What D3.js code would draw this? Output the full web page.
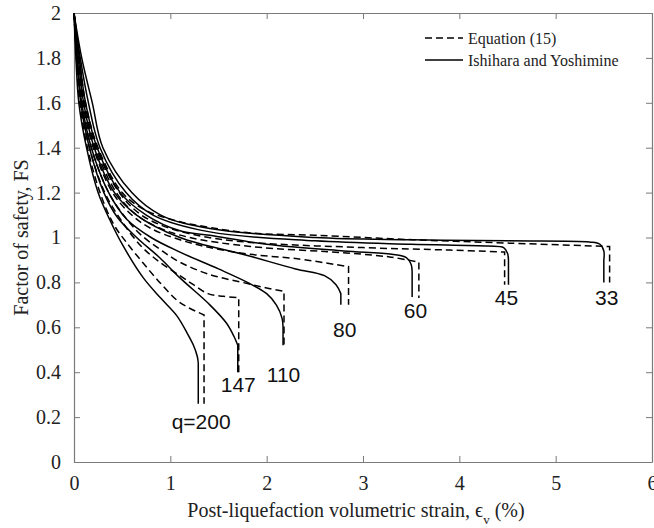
<!DOCTYPE html>
<html>
<head>
<meta charset="utf-8">
<script src="https://cdnjs.cloudflare.com/ajax/libs/d3/7.8.5/d3.min.js"></script>
<style>
body { margin: 0; background: #fff; }
</style>
</head>
<body>
<script>
// q values (curve labels)
const qLabels = ["q=200", "147", "110", "80", "60", "45", "33"];

// Ishihara and Yoshimine curves: [strain %, FS]
const ishiharaCurves = [
  [[0,2],[0.02,1.8],[0.05,1.6],[0.13,1.4],[0.25,1.2],[0.37,1.08],[0.5,0.97],[0.72,0.82],[0.9,0.73],[1.07,0.65],[1.18,0.57],[1.24,0.52],[1.28,0.47],[1.29,0.44]],
  [[0,2],[0.03,1.8],[0.07,1.6],[0.16,1.4],[0.31,1.2],[0.45,1.09],[0.65,1.0],[0.89,0.91],[1.1,0.82],[1.41,0.7],[1.58,0.62],[1.66,0.56],[1.7,0.52]],
  [[0,2],[0.035,1.8],[0.08,1.6],[0.18,1.4],[0.36,1.2],[0.55,1.08],[0.8,1.0],[1.1,0.935],[1.5,0.86],[1.8,0.8],[2.0,0.75],[2.1,0.7],[2.16,0.64],[2.17,0.6]],
  [[0,2],[0.045,1.8],[0.1,1.6],[0.21,1.4],[0.42,1.2],[0.65,1.1],[1.1,1.0],[1.8,0.92],[2.3,0.86],[2.6,0.83],[2.72,0.79],[2.77,0.75]],
  [[0,2],[0.055,1.8],[0.12,1.6],[0.24,1.4],[0.48,1.2],[0.75,1.1],[1.1,1.03],[1.41,1.01],[2.0,0.97],[2.8,0.94],[3.3,0.925],[3.45,0.91],[3.5,0.88],[3.51,0.85]],
  [[0,2],[0.065,1.8],[0.15,1.6],[0.27,1.4],[0.54,1.2],[0.82,1.1],[1.41,1.025],[2.5,0.985],[3.5,0.97],[4.3,0.962],[4.46,0.955],[4.5,0.93],[4.51,0.9]],
  [[0,2],[0.08,1.8],[0.19,1.6],[0.3,1.4],[0.6,1.2],[0.9,1.1],[1.41,1.04],[2.5,1.0],[3.5,0.99],[4.5,0.985],[5.35,0.98],[5.46,0.97],[5.5,0.94],[5.5,0.9]]
];
const ishiharaBottom = [0.26, 0.40, 0.52, 0.70, 0.735, 0.79, 0.80];

// Equation (15) curves: [strain %, FS]
const equationCurves = [
  [[0,2],[0.025,1.8],[0.06,1.6],[0.14,1.4],[0.27,1.2],[0.41,1.06],[0.55,0.975],[0.72,0.885],[0.89,0.8],[1.07,0.72],[1.2,0.685],[1.35,0.655]],
  [[0,2],[0.03,1.8],[0.07,1.6],[0.16,1.4],[0.32,1.2],[0.5,1.07],[0.7,0.96],[0.89,0.89],[1.1,0.83],[1.24,0.79],[1.39,0.75],[1.55,0.738],[1.71,0.732]],
  [[0,2],[0.035,1.8],[0.08,1.6],[0.18,1.4],[0.36,1.2],[0.55,1.08],[0.7,1.01],[0.9,0.945],[1.1,0.89],[1.41,0.835],[1.8,0.795],[2.0,0.775],[2.18,0.76]],
  [[0,2],[0.04,1.8],[0.09,1.6],[0.2,1.4],[0.4,1.2],[0.6,1.1],[0.8,1.04],[1.1,0.99],[1.41,0.955],[1.83,0.925],[2.32,0.905],[2.85,0.87]],
  [[0,2],[0.045,1.8],[0.1,1.6],[0.22,1.4],[0.44,1.2],[0.65,1.1],[0.9,1.04],[1.2,1.0],[1.83,0.96],[2.87,0.93],[3.3,0.912],[3.58,0.89]],
  [[0,2],[0.05,1.8],[0.11,1.6],[0.23,1.4],[0.47,1.2],[0.7,1.1],[1.0,1.04],[1.4,1.0],[1.83,0.978],[3.0,0.955],[3.9,0.944],[4.47,0.935]],
  [[0,2],[0.055,1.8],[0.12,1.6],[0.25,1.4],[0.5,1.2],[0.75,1.12],[1.1,1.07],[1.41,1.045],[1.83,1.02],[2.5,1.01],[3.52,0.99],[4.5,0.975],[5.56,0.96]]
];
const equationBottom = [0.26, 0.40, 0.52, 0.70, 0.73, 0.79, 0.80];

const xTicks = [0, 1, 2, 3, 4, 5, 6];
const yTicks = [0, 0.2, 0.4, 0.6, 0.8, 1, 1.2, 1.4, 1.6, 1.8, 2];

// label offset below the vertical end of each curve (px)
const labelDy = [25, 20, 37, 32, 20, 20, 23];

const W = 654, H = 528;
const margin = {top: 13, right: 2, bottom: 66, left: 74};
const width = W - margin.left - margin.right,
    height = H - margin.top - margin.bottom;

const svg = d3.select("body").append("svg")
    .attr("width", W)
    .attr("height", H)
    .style("display", "block");

const g = svg.append("g")
    .attr("transform", "translate(" + margin.left + "," + margin.top + ")");

const x = d3.scaleLinear().domain([0, 6]).range([0, width]);
const y = d3.scaleLinear().domain([0, 2]).range([height, 0]);

const axisColor = "#7a7a7a";
const tickFont = "'Liberation Serif', 'Times New Roman', serif";

// axes with inward ticks (box style)
function styleAxis(sel) {
  sel.select(".domain").attr("stroke", axisColor).attr("stroke-width", 1.2);
  sel.selectAll(".tick line").attr("stroke", axisColor).attr("stroke-width", 1);
  sel.selectAll(".tick text").attr("fill", "#222").style("font-family", tickFont).style("font-size", "20px");
}

g.append("g")
    .attr("transform", "translate(0," + height + ")")
    .call(d3.axisBottom(x).tickValues(xTicks).tickSize(-6).tickPadding(14).tickSizeOuter(0).tickFormat(d3.format("d")))
    .call(styleAxis);

g.append("g")
    .call(d3.axisLeft(y).tickValues(yTicks).tickSize(-6).tickPadding(13).tickSizeOuter(0).tickFormat(d => String(+d.toFixed(1))))
    .call(styleAxis);

g.append("g")
    .call(d3.axisTop(x).tickValues(xTicks).tickSize(-6).tickSizeOuter(0).tickFormat(""))
    .call(styleAxis);

g.append("g")
    .attr("transform", "translate(" + width + ",0)")
    .call(d3.axisRight(y).tickValues(yTicks).tickSize(-6).tickSizeOuter(0).tickFormat(""))
    .call(styleAxis);

// curves
const line = d3.line()
    .x(d => x(d[0]))
    .y(d => y(d[1]))
    .curve(d3.curveCatmullRom.alpha(0.5));

function curvePath(pts, bottom) {
  const last = pts[pts.length - 1];
  return line(pts) + "L" + x(last[0]) + "," + y(bottom);
}

g.selectAll(".ishihara")
  .data(ishiharaCurves)
  .join("path")
    .attr("class", "ishihara")
    .attr("d", (d, i) => curvePath(d, ishiharaBottom[i]))
    .attr("fill", "none")
    .attr("stroke", "#000")
    .attr("stroke-width", 1.5);

g.selectAll(".equation")
  .data(equationCurves)
  .join("path")
    .attr("class", "equation")
    .attr("d", (d, i) => curvePath(d, equationBottom[i]))
    .attr("fill", "none")
    .attr("stroke", "#000")
    .attr("stroke-width", 1.5)
    .attr("stroke-dasharray", "7,4");

// q labels below each pair of curves
g.selectAll(".qlabel")
  .data(qLabels)
  .join("text")
    .attr("class", "qlabel")
    .attr("x", (d, i) => {
      const a = ishiharaCurves[i][ishiharaCurves[i].length - 1][0];
      const b = equationCurves[i][equationCurves[i].length - 1][0];
      return x((a + b) / 2);
    })
    .attr("y", (d, i) => y(Math.min(ishiharaBottom[i], equationBottom[i])) + labelDy[i])
    .attr("text-anchor", "middle")
    .style("font-family", "'Liberation Sans', Arial, sans-serif")
    .style("font-size", "21px")
    .attr("fill", "#111")
    .text(d => d);

// axis titles
svg.append("text")
    .attr("x", margin.left + width / 2 - 7)
    .attr("y", 517)
    .attr("text-anchor", "middle")
    .style("font-family", tickFont)
    .style("font-size", "20px")
    .attr("fill", "#222")
    .html("Post-liquefaction volumetric strain, \u03F5<tspan dy='7' font-size='13px'>v</tspan><tspan dy='-7'> (%)</tspan>");

svg.append("text")
    .attr("transform", "translate(28," + (margin.top + height / 2) + ") rotate(-90)")
    .attr("text-anchor", "middle")
    .style("font-family", tickFont)
    .style("font-size", "20px")
    .attr("fill", "#222")
    .text("Factor of safety, FS");

// legend
const legendItems = [
  {name: "Equation (15)", dash: "7,4"},
  {name: "Ishihara and Yoshimine", dash: null}
];

const legend = svg.append("g").attr("transform", "translate(425,38)");
legendItems.forEach((item, i) => {
  const row = legend.append("g").attr("transform", "translate(0," + i * 22 + ")");
  row.append("line")
      .attr("x1", 0).attr("x2", 38)
      .attr("stroke", "#000").attr("stroke-width", 1.5)
      .attr("stroke-dasharray", item.dash);
  row.append("text")
      .attr("x", 43).attr("y", 6)
      .style("font-family", tickFont)
      .style("font-size", "16px")
      .attr("fill", "#222")
      .text(item.name);
});
</script>
</body>
</html>
